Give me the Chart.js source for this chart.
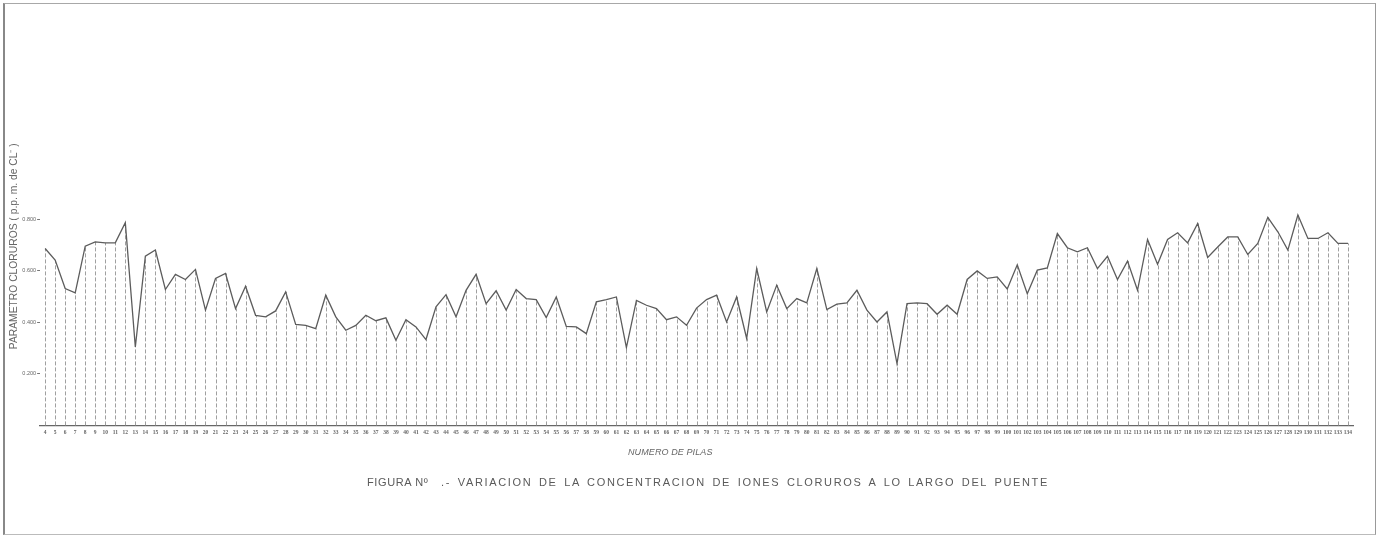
<!DOCTYPE html>
<html>
<head>
<meta charset="utf-8">
<script src="https://cdn.jsdelivr.net/npm/chart.js@4.4.1/dist/chart.umd.min.js"></script>
<style>
  html, body { margin: 0; padding: 0; background: #fff; }
  #sheet { position: relative; width: 1382px; height: 539px; overflow: hidden; background: #fff; }
  #frame { position: absolute; left: 3px; top: 3px; width: 1373px; height: 532px;
           border-left: 2px solid #888; border-top: 1px solid #a8a8a8;
           border-right: 1px solid #999; border-bottom: 1px solid #bbb; box-sizing: border-box; }
  #plot { position: absolute; left: 0; top: 0; }
  .txt { position: absolute; white-space: nowrap; color: #5a5a5a; font-family: "Liberation Sans", Arial, sans-serif; }
  #xtitle { left: 628px; top: 447px; font-family: "Liberation Sans Narrow", "Liberation Sans", sans-serif;
            font-style: italic; font-size: 9px; letter-spacing: 0.1px; color: #666; }
  #fig { left: 367px; top: 476px; font-size: 11px; letter-spacing: 0.6px; }
  #caption { left: 441px; top: 476px; font-size: 11px; letter-spacing: 1.65px; word-spacing: 2px; }
</style>
</head>
<body>
<div id="sheet">
  <div id="frame"></div>
  <canvas id="plot" width="1382" height="539"></canvas>
  <div class="txt" id="xtitle">NUMERO DE PILAS</div>
  <div class="txt" id="fig">FIGURA Nº</div>
  <div class="txt" id="caption">.- VARIACION DE LA CONCENTRACION DE IONES CLORUROS A LO LARGO DEL PUENTE</div>
</div>
<script>
// Pile numbers along the bridge
const pilas = [
  4, 5, 6, 7, 8, 9, 10, 11, 12, 13, 14, 15, 16, 17, 18, 19, 20, 21, 22, 23,
  24, 25, 26, 27, 28, 29, 30, 31, 32, 33, 34, 35, 36, 37, 38, 39, 40, 41, 42, 43,
  44, 45, 46, 47, 48, 49, 50, 51, 52, 53, 54, 55, 56, 57, 58, 59, 60, 61, 62, 63,
  64, 65, 66, 67, 68, 69, 70, 71, 72, 73, 74, 75, 76, 77, 78, 79, 80, 81, 82, 83,
  84, 85, 86, 87, 88, 89, 90, 91, 92, 93, 94, 95, 96, 97, 98, 99, 100, 101, 102, 103,
  104, 105, 106, 107, 108, 109, 110, 111, 112, 113, 114, 115, 116, 117, 118, 119, 120, 121, 122, 123,
  124, 125, 126, 127, 128, 129, 130, 131, 132, 133, 134
];

// Chloride parameter measured at each pile
const cloruros = [
  0.686, 0.641, 0.531, 0.514, 0.695, 0.712, 0.708, 0.708, 0.786, 0.304,
  0.656, 0.680, 0.527, 0.586, 0.566, 0.605, 0.447, 0.570, 0.589, 0.453,
  0.540, 0.427, 0.421, 0.444, 0.518, 0.392, 0.388, 0.375, 0.505, 0.421,
  0.369, 0.388, 0.427, 0.406, 0.417, 0.330, 0.410, 0.382, 0.333, 0.460,
  0.507, 0.421, 0.524, 0.586, 0.472, 0.522, 0.447, 0.527, 0.492, 0.488,
  0.418, 0.498, 0.384, 0.382, 0.356, 0.479, 0.488, 0.498, 0.302, 0.485,
  0.466, 0.453, 0.410, 0.421, 0.388, 0.455, 0.488, 0.505, 0.401, 0.498,
  0.337, 0.608, 0.440, 0.544, 0.453, 0.492, 0.475, 0.608, 0.449, 0.470,
  0.475, 0.524, 0.447, 0.401, 0.440, 0.240, 0.472, 0.475, 0.472, 0.431,
  0.466, 0.431, 0.566, 0.599, 0.570, 0.576, 0.529, 0.623, 0.511, 0.602,
  0.611, 0.744, 0.689, 0.673, 0.689, 0.608, 0.656, 0.566, 0.637, 0.524,
  0.721, 0.625, 0.721, 0.747, 0.708, 0.783, 0.651, 0.692, 0.731, 0.731,
  0.663, 0.706, 0.807, 0.751, 0.680, 0.816, 0.725, 0.725, 0.747, 0.706,
  0.706
];

// Labelled values on the vertical axis
const yTicks = [0.2, 0.4, 0.6, 0.8];
const yTickLabels = ['0.200', '0.400', '0.600', '0.800'];

// Dashed drop line from the baseline up to every reading
const dropLines = {
  id: 'dropLines',
  beforeDatasetsDraw(chart) {
    const meta = chart.getDatasetMeta(0);
    const base = chart.scales.y.getPixelForValue(0);
    const ctx = chart.ctx;
    ctx.save();
    ctx.strokeStyle = '#a0a0a0';
    ctx.lineWidth = 1;
    ctx.setLineDash([4, 2]);
    meta.data.forEach(pt => {
      const x = Math.round(pt.x) + 0.5;
      ctx.beginPath();
      ctx.moveTo(x, base);
      ctx.lineTo(x, pt.y);
      ctx.stroke();
    });
    ctx.restore();
  }
};

new Chart(document.getElementById('plot'), {
  type: 'line',
  data: {
    labels: pilas,
    datasets: [{
      data: cloruros,
      borderColor: '#5c5c5c',
      borderWidth: 1.3,
      pointRadius: 0,
      tension: 0,
      fill: false
    }]
  },
  options: {
    responsive: false,
    animation: false,
    events: [],
    layout: { padding: { left: 7, right: 29, top: 67, bottom: 99 } },
    plugins: { legend: { display: false }, tooltip: { enabled: false } },
    scales: {
      x: {
        offset: true,
        grid: { display: false, drawTicks: false },
        border: { display: true, color: '#666', width: 1.3 },
        ticks: {
          autoSkip: false, maxRotation: 0, minRotation: 0, padding: 4,
          color: '#666',
          font: { family: 'Liberation Sans Narrow', size: 5.5, weight: 'bold' }
        }
      },
      y: {
        min: 0,
        max: 1.39,
        afterBuildTicks: axis => { axis.ticks = yTicks.map(v => ({ value: v })); },
        grid: { drawOnChartArea: false, drawTicks: true, tickLength: 3, color: '#777' },
        border: { display: false },
        ticks: {
          padding: 1,
          color: '#666',
          font: { family: 'Liberation Sans', size: 5.5 },
          callback: (v) => yTickLabels[yTicks.indexOf(v)]
        },
        title: {
          display: true,
          text: 'PARAMETRO CLORUROS ( p.p. m. de CL⁻ )',
          color: '#666',
          font: { family: 'Liberation Sans', size: 10.3 },
          padding: { top: 1, bottom: 1 }
        }
      }
    }
  },
  plugins: [dropLines]
});
</script>
</body>
</html>
